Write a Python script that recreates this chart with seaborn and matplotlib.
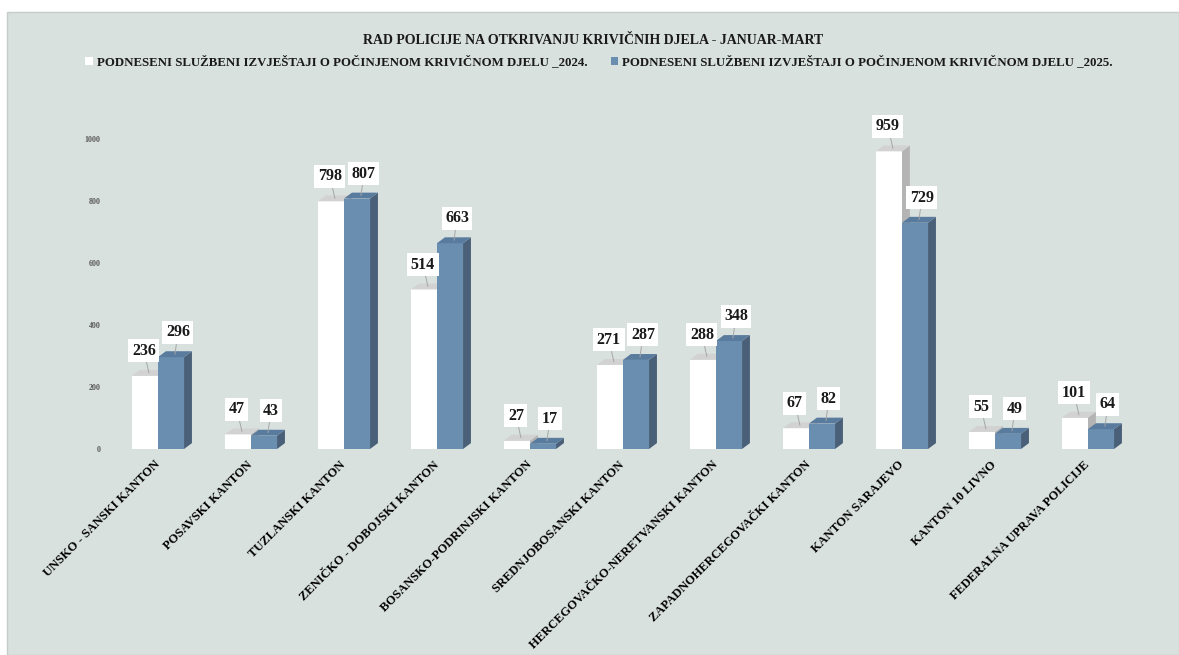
import numpy as np
import pandas as pd
import matplotlib
matplotlib.use("Agg")
import matplotlib.pyplot as plt
import seaborn as sns
from matplotlib.patches import Polygon, Rectangle, Patch

# ---------------- data ----------------
categories = [
    "UNSKO - SANSKI KANTON",
    "POSAVSKI KANTON",
    "TUZLANSKI KANTON",
    "ZENIČKO - DOBOJSKI KANTON",
    "BOSANSKO-PODRINJSKI KANTON",
    "SREDNJOBOSANSKI KANTON",
    "HERCEGOVAČKO-NERETVANSKI KANTON",
    "ZAPADNOHERCEGOVAČKI KANTON",
    "KANTON SARAJEVO",
    "KANTON 10 LIVNO",
    "FEDERALNA UPRAVA POLICIJE",
]
values_2024 = [236, 47, 798, 514, 27, 271, 288, 67, 959, 55, 101]
values_2025 = [296, 43, 807, 663, 17, 287, 348, 82, 729, 49, 64]
series_names = [
    "PODNESENI SLUŽBENI IZVJEŠTAJI O POČINJENOM KRIVIČNOM DJELU _2024.",
    "PODNESENI SLUŽBENI IZVJEŠTAJI O POČINJENOM KRIVIČNOM DJELU _2025.",
]
yticks = [0, 200, 400, 600, 800, 1000]
title = "RAD POLICIJE NA OTKRIVANJU KRIVIČNIH DJELA - JANUAR-MART"

df = pd.DataFrame({
    "cat": categories * 2,
    "val": values_2024 + values_2025,
    "series": [series_names[0]] * len(categories) + [series_names[1]] * len(categories),
})

front_cols = ["#FFFFFF", "#6A8EAF"]
side_cols = ["#B4B4B4", "#4A6079"]
top_cols = ["#D2D2D2", "#587B9E"]

# ---------------- style ----------------
sns.set_theme(style="white")
plt.rcParams["font.family"] = ["Liberation Serif", "DejaVu Serif"]

W, H = 1179, 655
fig = plt.figure(figsize=(W / 100, H / 100), dpi=100)
fig.patch.set_facecolor("white")
fig.patches.append(Rectangle((7 / W, 0), 1 - 7 / W, 1 - 12 / H, transform=fig.transFigure,
                             facecolor="#D9E1DE", edgecolor="#C5CDCA", lw=1, zorder=-5))

ax = fig.add_axes([111.5 / W, (H - 449) / H, 1023 / W, 329 / H])
ax.set_zorder(2)
ax.set_facecolor("none")

sns.barplot(data=df, x="cat", y="val", hue="series", hue_order=series_names,
            palette=front_cols, width=0.56, saturation=1, ax=ax, legend=False,
            linewidth=0, edgecolor="none")

ax.set_ylim(0, 1060)
ax.set_xlim(-0.5, len(categories) - 0.5)

# pseudo 3D faces
dx = 0.085
dy = 19
n = len(categories)
bars = list(ax.patches)
for i, p in enumerate(bars):
    s = 0 if i < n else 1
    x0 = p.get_x()
    w = p.get_width()
    h = p.get_height()
    p.set_zorder(2 + s)
    side = Polygon([(x0 + w, 0), (x0 + w + dx, dy), (x0 + w + dx, h + dy), (x0 + w, h)],
                   closed=True, facecolor=side_cols[s], edgecolor="none", zorder=2 + s)
    top = Polygon([(x0, h), (x0 + dx, h + dy), (x0 + w + dx, h + dy), (x0 + w, h)],
                  closed=True, facecolor=top_cols[s], edgecolor="none", zorder=2 + s)
    ax.add_patch(side)
    ax.add_patch(top)

# data labels
for i, p in enumerate(bars):
    s = 0 if i < n else 1
    xc = p.get_x() + p.get_width() / 2
    h = p.get_height()
    ax.annotate(f"{int(round(h))}", xy=(xc + dx / 2, h + dy / 2),
                xytext=(-5 if s == 0 else 3, 22),
                textcoords="offset pixels", ha="center", va="center",
                fontsize=11.5, fontweight="bold", color="#1A1A1A", zorder=10 + s,
                bbox=dict(boxstyle="square,pad=0.22", facecolor="white", edgecolor="none"),
                arrowprops=dict(arrowstyle="-", color="#A6A6A6", lw=0.7, shrinkA=0, shrinkB=0))

# axes styling
for sp in ax.spines.values():
    sp.set_visible(False)
ax.grid(False)
ax.set_yticks(yticks)
ax.set_yticklabels([str(v) for v in yticks], fontsize=5.8, fontweight="bold", color="#595959")
ax.tick_params(axis="y", length=0, pad=8)
ax.tick_params(axis="x", length=0, pad=10)
ax.set_xticks(range(n))
ax.set_xticklabels(categories, rotation=45, ha="right", va="center", rotation_mode="anchor",
                   fontsize=9, fontweight="bold", color="black")
ax.set_xlabel("")
ax.set_ylabel("")

# title and legend
fig.text(0.503, 1 - 41 / H, title, ha="center", va="center", fontsize=10,
         fontweight="bold", color="#1A1A1A")
handles = [Patch(facecolor=front_cols[0], edgecolor="none"),
           Patch(facecolor=front_cols[1], edgecolor="none")]
leg = fig.legend(handles, series_names, loc="center", bbox_to_anchor=(0.508, 1 - 62 / H),
                 ncol=2, frameon=False, handlelength=0.6, handleheight=0.6,
                 handletextpad=0.3, columnspacing=1.8,
                 prop=dict(size=9.3, weight="bold"))
for t in leg.get_texts():
    t.set_color("#1A1A1A")

fig.savefig("out.png", dpi=100, facecolor=fig.get_facecolor())
